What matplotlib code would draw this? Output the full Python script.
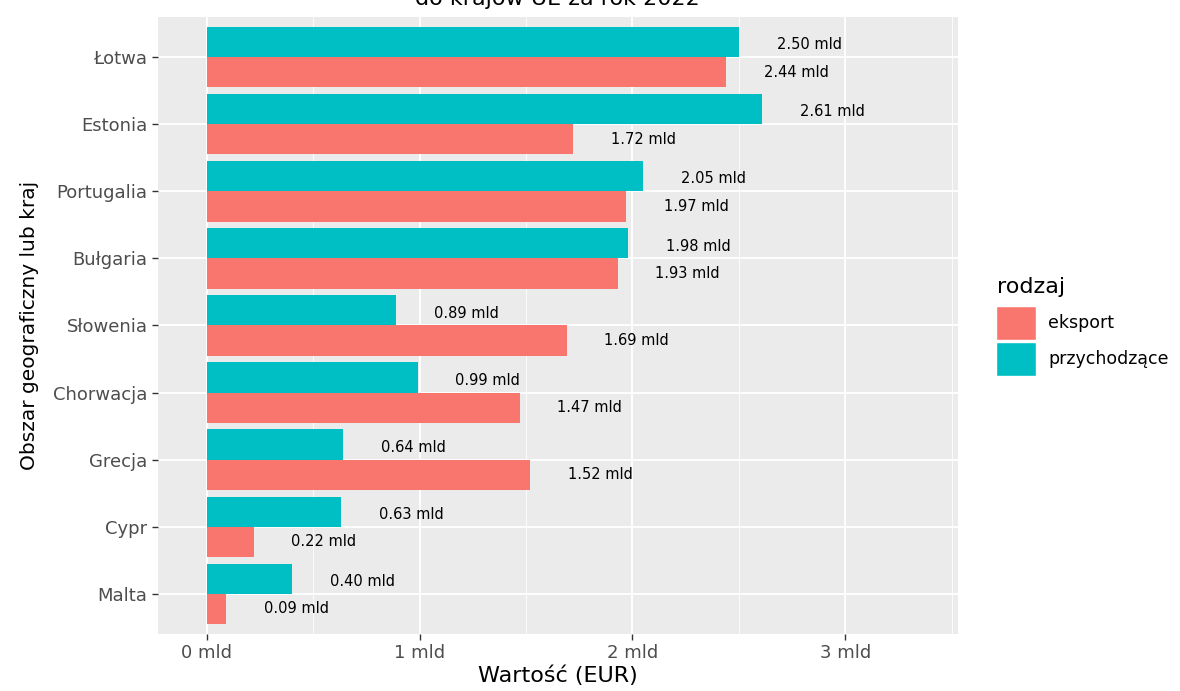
import matplotlib.pyplot as plt
import numpy as np
from matplotlib.patches import Patch

# data (values in mld EUR)
countries = ['Łotwa', 'Estonia', 'Portugalia', 'Bułgaria', 'Słowenia',
             'Chorwacja', 'Grecja', 'Cypr', 'Malta']
przychodzace = [2.50, 2.61, 2.05, 1.98, 0.89, 0.99, 0.64, 0.63, 0.40]
eksport = [2.44, 1.72, 1.97, 1.93, 1.69, 1.47, 1.52, 0.22, 0.09]
xticks = [0, 1, 2, 3]
xtick_labels = ['0 mld', '1 mld', '2 mld', '3 mld']

RED = '#F8766D'
CYAN = '#00BFC4'
TEXT_GRAY = '#4D4D4D'

plt.rcParams['font.family'] = ['DejaVu Sans']

fig = plt.figure(figsize=(11.8, 6.91), dpi=100)
ax = fig.add_axes([158 / 1180, 57 / 691, 800 / 1180, 617 / 691])
ax.set_facecolor('#EBEBEB')

n = len(countries)
y = np.arange(n)[::-1]  # Łotwa on top
h = 0.45

ax.barh(y + h / 2, przychodzace, height=h, color=CYAN, zorder=3)
ax.barh(y - h / 2, eksport, height=h, color=RED, zorder=3)

offset = 0.33
for yi, v in zip(y, przychodzace):
    ax.text(v + offset, yi + h / 2 - 0.04, f'{v:.2f} mld', ha='center', va='center',
            fontsize=10.5, color='black', zorder=4)
for yi, v in zip(y, eksport):
    ax.text(v + offset, yi - h / 2, f'{v:.2f} mld', ha='center', va='center',
            fontsize=10.5, color='black', zorder=4)

ax.set_xlim(-0.23, 3.53)
ax.set_ylim(-0.6, n - 1 + 0.6)

ax.set_xticks(xticks)
ax.set_xticklabels(xtick_labels)
ax.set_xticks([0.5, 1.5, 2.5, 3.5], minor=True)
ax.set_yticks(y)
ax.set_yticklabels(countries)

ax.grid(which='major', color='white', linewidth=1.3, zorder=1)
ax.grid(which='minor', axis='x', color='white', linewidth=0.6, zorder=1)
ax.tick_params(axis='both', which='major', colors='#333333', labelcolor=TEXT_GRAY,
               labelsize=13, length=4, width=1)
ax.tick_params(axis='x', which='minor', length=0)
for s in ax.spines.values():
    s.set_visible(False)

ax.set_xlabel('Wartość (EUR)', fontsize=16, labelpad=2)
ax.set_ylabel('Obszar geograficzny lub kraj', fontsize=14.5, labelpad=10)

# title is cut off at the top edge in the reference
fig.text(0.472, 1 - 5 / 691, 'do krajów UE za rok 2022', ha='center', va='baseline',
         fontsize=16)

# legend: title drawn separately to get the ggplot-like gap above the keys
fig.text(997 / 1180, 1 - 287 / 691, 'rodzaj', ha='left', va='center', fontsize=16)
handles = [Patch(facecolor=RED, edgecolor='white'), Patch(facecolor=CYAN, edgecolor='white')]
leg = fig.legend(handles, ['eksport', 'przychodzące'],
                 loc='upper left', bbox_to_anchor=(996 / 1180, 1 - 306 / 691),
                 frameon=False, fontsize=12.5,
                 handlelength=2.3, handleheight=2.6, labelspacing=0.15,
                 handletextpad=0.7, borderpad=0, borderaxespad=0)

fig.savefig('out.png', dpi=100)
